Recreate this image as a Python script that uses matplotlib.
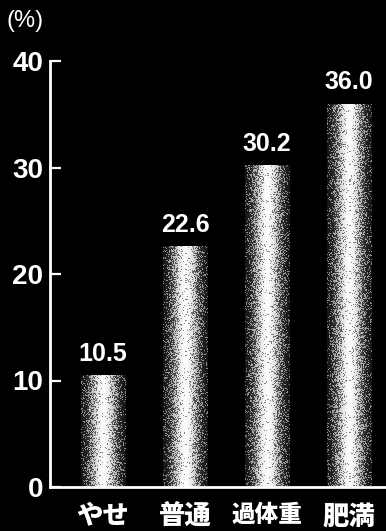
import numpy as np
import matplotlib
matplotlib.use("Agg")
import matplotlib.pyplot as plt
from matplotlib.patches import Rectangle

categories = ["やせ", "普通", "過体重", "肥満"]
values = [10.5, 22.6, 30.2, 36.0]
value_labels = ["10.5", "22.6", "30.2", "36.0"]
y_ticks = [0, 10, 20, 30, 40]

W, H, DPI = 386, 531, 100
fig = plt.figure(figsize=(W / DPI, H / DPI), dpi=DPI, facecolor="black")
ax = fig.add_axes([50 / W, 44 / H, 336 / W, 426 / H], facecolor="black")

x = np.arange(len(categories))
bar_w = 0.54
ax.set_xlim(-0.645, 3.45)
ax.set_ylim(0, 40)

# halftone-like shading: bright centre fading to grey at the bar edges
rng = np.random.default_rng(7)
px_per_unit = 426 / 40
nx = 44
u = np.linspace(-1, 1, nx)
density = 0.10 + 0.86 * np.exp(-(u / 0.6) ** 2)
for xi, v, lab in zip(x, values, value_labels):
    ny = int(round(v * px_per_unit))
    dots = (rng.random((ny, nx)) < density[None, :]).astype(float)
    img = 0.45 * dots + 0.55 * density[None, :]
    im = ax.imshow(img, cmap="gray", vmin=0, vmax=1, aspect="auto",
                   extent=(xi - bar_w / 2, xi + bar_w / 2, 0, v),
                   interpolation="nearest", zorder=2)
    clip = Rectangle((xi - bar_w / 2, 0), bar_w, v, transform=ax.transData)
    im.set_clip_path(clip)
    ax.text(xi, v + 0.9, lab, ha="center", va="bottom", color="white",
            fontsize=18, fontweight="bold", family="Liberation Sans", zorder=3)

ax.set_xlim(-0.645, 3.45)
ax.set_ylim(0, 40)

for s in ["top", "right"]:
    ax.spines[s].set_visible(False)
for s in ["left", "bottom"]:
    ax.spines[s].set_color("white")
    ax.spines[s].set_linewidth(2)

ax.set_yticks(y_ticks)
ax.set_yticklabels([str(t) for t in y_ticks], family="Liberation Sans",
                   fontsize=20, fontweight="bold", color="white")
ax.tick_params(axis="y", direction="in", length=8, width=1.6, color="white", pad=5)
ax.set_xticks(x)
ax.set_xticklabels(categories, family=["Noto Sans CJK JP", "DejaVu Sans"],
                   fontsize=19, fontweight="heavy", color="white")
ax.tick_params(axis="x", length=0, pad=11)
for lbl in ax.get_xticklabels():
    if lbl.get_text() == "過体重":
        lbl.set_fontsize(17)

fig.text(7 / W, 1 - 21 / H, "(%)", color="white", fontsize=17,
         family="Liberation Sans", va="center", ha="left")

fig.savefig("out.png", dpi=DPI, facecolor="black")
